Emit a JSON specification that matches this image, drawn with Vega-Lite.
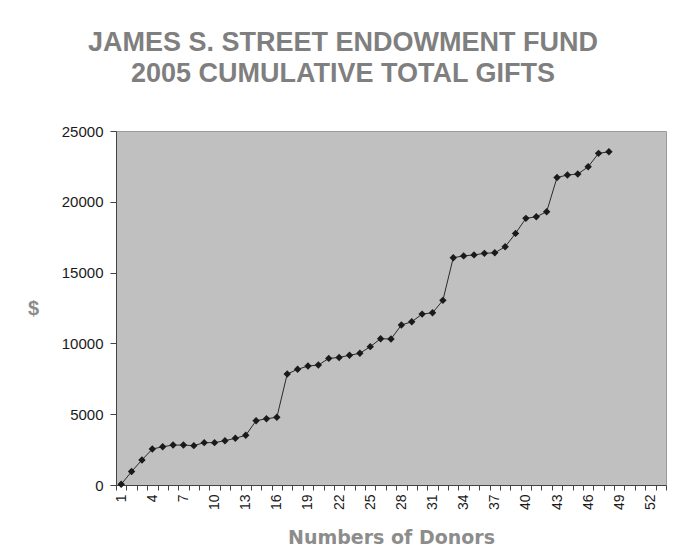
{
  "$schema": "https://vega.github.io/schema/vega-lite/v6.json",
  "autosize": {"type": "none"},
  "width": 550,
  "height": 354,
  "padding": {"left": 116, "top": 131, "right": 7, "bottom": 74},
  "background": "white",
  "config": {
    "font": "Liberation Sans",
    "view": {"fill": "#c0c0c0", "stroke": "#9a9a9a", "strokeWidth": 1}
  },
  "title": {
    "text": ["JAMES S. STREET ENDOWMENT FUND", "2005 CUMULATIVE TOTAL GIFTS"],
    "fontSize": 27,
    "lineHeight": 31,
    "fontWeight": "bold",
    "color": "#7f7f7f",
    "anchor": "middle",
    "dx": -48,
    "offset": 36
  },
  "data": {
    "values": [
      {"donors": 1, "total": 50},
      {"donors": 2, "total": 950},
      {"donors": 3, "total": 1770},
      {"donors": 4, "total": 2540},
      {"donors": 5, "total": 2700},
      {"donors": 6, "total": 2820},
      {"donors": 7, "total": 2820},
      {"donors": 8, "total": 2780},
      {"donors": 9, "total": 2990},
      {"donors": 10, "total": 2990},
      {"donors": 11, "total": 3130},
      {"donors": 12, "total": 3300},
      {"donors": 13, "total": 3510},
      {"donors": 14, "total": 4540},
      {"donors": 15, "total": 4680},
      {"donors": 16, "total": 4780},
      {"donors": 17, "total": 7840},
      {"donors": 18, "total": 8170},
      {"donors": 19, "total": 8400},
      {"donors": 20, "total": 8470},
      {"donors": 21, "total": 8940},
      {"donors": 22, "total": 9010},
      {"donors": 23, "total": 9160},
      {"donors": 24, "total": 9300},
      {"donors": 25, "total": 9770},
      {"donors": 26, "total": 10330},
      {"donors": 27, "total": 10310},
      {"donors": 28, "total": 11300},
      {"donors": 29, "total": 11530},
      {"donors": 30, "total": 12070},
      {"donors": 31, "total": 12160},
      {"donors": 32, "total": 13040},
      {"donors": 33, "total": 16050},
      {"donors": 34, "total": 16180},
      {"donors": 35, "total": 16250},
      {"donors": 36, "total": 16360},
      {"donors": 37, "total": 16400},
      {"donors": 38, "total": 16820},
      {"donors": 39, "total": 17770},
      {"donors": 40, "total": 18830},
      {"donors": 41, "total": 18940},
      {"donors": 42, "total": 19300},
      {"donors": 43, "total": 21720},
      {"donors": 44, "total": 21890},
      {"donors": 45, "total": 21960},
      {"donors": 46, "total": 22470},
      {"donors": 47, "total": 23420},
      {"donors": 48, "total": 23530}
    ]
  },
  "encoding": {
    "x": {
      "field": "donors",
      "type": "ordinal",
      "scale": {
        "type": "band",
        "paddingInner": 0,
        "paddingOuter": 0,
        "domain": [1,2,3,4,5,6,7,8,9,10,11,12,13,14,15,16,17,18,19,20,21,22,23,24,25,26,27,28,29,30,31,32,33,34,35,36,37,38,39,40,41,42,43,44,45,46,47,48,49,50,51,52,53]
      },
      "axis": {
        "title": "Numbers of Donors",
        "titleFont": "DejaVu Sans",
        "titleFontSize": 19,
        "titleFontWeight": "bold",
        "titleColor": "#8c8c8c",
        "titlePadding": 19,
        "labelAngle": -90,
        "labelFontSize": 14,
        "labelColor": "#1a1a1a",
        "labelPadding": 4,
        "labelOverlap": false,
        "labelExpr": "(datum.value - 1) % 3 === 0 ? datum.label : ''",
        "tickBand": "extent",
        "tickSize": 5,
        "tickColor": "#444444",
        "domainColor": "#444444",
        "grid": false
      }
    },
    "y": {
      "field": "total",
      "type": "quantitative",
      "scale": {"domain": [0, 25000]},
      "axis": {
        "title": "$",
        "titleAngle": 0,
        "titleFontSize": 20,
        "titleFontWeight": "bold",
        "titleColor": "#8c8c8c",
        "titleX": -83,
        "titleY": 177,
        "titleAlign": "center",
        "titleBaseline": "middle",
        "values": [0, 5000, 10000, 15000, 20000, 25000],
        "format": "d",
        "labelFontSize": 15,
        "labelColor": "#1a1a1a",
        "labelPadding": 7,
        "tickSize": 6,
        "tickColor": "#444444",
        "domainColor": "#444444",
        "grid": false
      }
    }
  },
  "layer": [
    {"mark": {"type": "line", "color": "#2a2a2a", "strokeWidth": 1}},
    {"mark": {"type": "point", "shape": "diamond", "filled": true, "color": "#1a1a1a", "size": 55, "opacity": 1}}
  ]
}
